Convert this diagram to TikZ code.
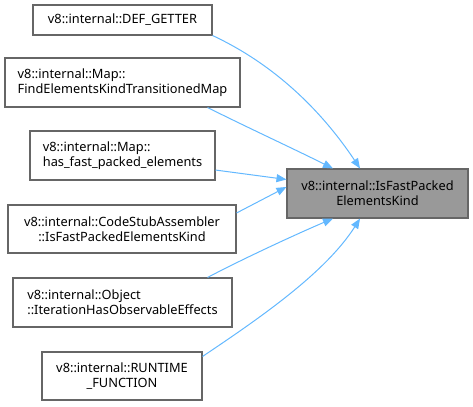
\documentclass[tikz,border=0pt]{standalone}
\usepackage{fontspec}
\setmainfont{Noto Sans}
\usetikzlibrary{arrows.meta}
\definecolor{edgec}{HTML}{63B8FF}
\definecolor{boxline}{HTML}{666666}
\definecolor{tfill}{HTML}{999999}
\tikzset{
  box/.style={draw=boxline, fill=white, line width=0.8pt, inner sep=0pt,
    font=\fontsize{9.6pt}{11.25pt}\selectfont, text=black},
  tbox/.style={box, fill=tfill},
  edge/.style={draw=edgec, line width=0.75pt, -{Triangle[length=7.5pt,width=6pt]}}
}
\begin{document}
\begin{tikzpicture}[x=0.75pt,y=-0.75pt]
\useasboundingbox (0,0) rectangle (473,406);
\node[box, minimum width=134.25pt, minimum height=22.5pt] (b1) at (122.5,20) {v8::internal::DEF\_GETTER};
\node[box, minimum width=176.25pt, minimum height=36.75pt, align=left] (b2) at (122.5,82.5) {v8::internal::Map::\\FindElementsKindTransitionedMap};
\node[box, minimum width=138.75pt, minimum height=36.75pt, align=left] (b3) at (122.5,155.5) {v8::internal::Map::\\has\_fast\_packed\_elements};
\node[box, minimum width=171pt, minimum height=36pt, align=center] (b4) at (122,229) {v8::internal::CodeStubAssembler\\::IsFastPackedElementsKind};
\node[box, minimum width=164.25pt, minimum height=36.75pt, align=left] (b5) at (122.5,302.5) {v8::internal::Object\\::IterationHasObservableEffects};
\node[box, minimum width=120pt, minimum height=36pt, align=center] (b6) at (122,376) {v8::internal::RUNTIME\\\_FUNCTION};
\node[tbox, minimum width=135.75pt, minimum height=36.75pt, align=center] (t) at (377.5,193.5) {v8::internal::IsFastPacked\\ElementsKind};

\draw[edge] (b1.south east) .. controls +(60,28) and +(-40,-60) .. ([xshift=-13.1pt]t.north);
\draw[edge] ([xshift=-24.75pt]b2.south east) .. controls +(40,20) and +(-40,-20) .. ([xshift=-33.4pt]t.north);
\draw[edge] ([yshift=-10.9pt]b3.east) -- ([yshift=10.5pt]t.west);
\draw[edge] ([yshift=12pt]b4.east) -- ([yshift=4.9pt]t.west);
\draw[edge] ([xshift=-18.75pt]b5.north east) .. controls +(38,-20) and +(-33,14) .. ([xshift=-33.4pt]t.south);
\draw[edge] ([yshift=-3.75pt]b6.north east) .. controls +(55,-37) and +(-35,55) .. ([xshift=-13.1pt]t.south);
\end{tikzpicture}
\end{document}
